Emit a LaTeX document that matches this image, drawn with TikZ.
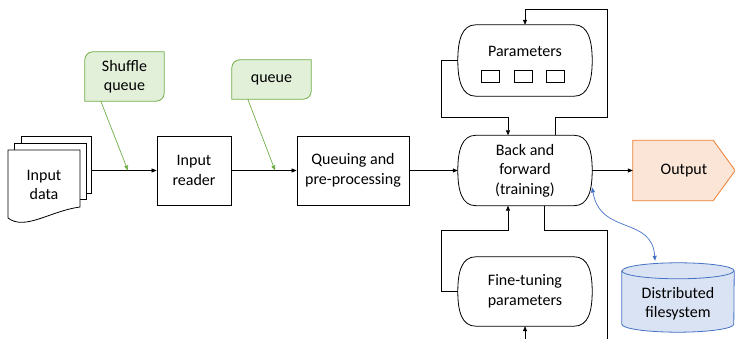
\documentclass[tikz,border=0pt]{standalone}
\usepackage{fontspec}
\setmainfont{Carlito}
\usepackage{tikz}
\usetikzlibrary{positioning,arrows.meta,calc,backgrounds}
\definecolor{tagG}{HTML}{70AD47}
\definecolor{tagGfill}{HTML}{E2F0D9}
\definecolor{outO}{HTML}{ED7D31}
\definecolor{outOfill}{HTML}{FBE5D6}
\definecolor{fsB}{HTML}{4472C4}
\definecolor{fsBfill}{HTML}{DAE3F3}
\tikzset{
  txt/.style   ={font=\fontsize{16}{19.5}\selectfont, align=center, inner sep=0pt},
  stage/.style ={txt, rectangle, draw, line width=0.8pt, minimum height=69pt},
  pill/.style  ={txt, rectangle, minimum width=134pt, minimum height=70pt},
  slot/.style  ={rectangle, draw, line width=0.8pt, minimum width=18pt,
                 minimum height=12pt, inner sep=0pt},
  sheet/.style ={draw, line width=0.8pt, fill=white, inner sep=0pt},
  flow/.style  ={draw, line width=0.7pt, -{Triangle[length=5pt,width=4pt]}},
  wire/.style  ={draw, line width=0.7pt},
  % the green pointers from the queue notes down onto the data line
  hint/.style  ={draw=tagG, line width=0.7pt, -{Triangle[length=5pt,width=4pt]}},
  sync/.style  ={draw=fsB, line width=0.7pt,
                 {Triangle[length=5pt,width=4pt]}-{Triangle[length=5pt,width=4pt]}},
}
% outline of a pill node: flat top and bottom, bulging ends
\newcommand{\pillshape}[1]{%
  \draw[line width=0.8pt]
    ([xshift=18pt]#1.north west) .. controls +(-14,0) and +(0,20) .. (#1.west)
    .. controls +(0,-20) and +(-14,0) .. ([xshift=18pt]#1.south west)
    -- ([xshift=-18pt]#1.south east) .. controls +(14,0) and +(0,-20) .. (#1.east)
    .. controls +(0,20) and +(14,0) .. ([xshift=-18pt]#1.north east) -- cycle;}
% note box, rounded only at top left and bottom right
\newcommand{\qtag}[1]{%
  \begin{scope}[on background layer]
    \draw[draw=tagG, fill=tagGfill, line width=0.8pt]
      (#1.south west) -- ([yshift=-8pt]#1.north west)
      arc[start angle=180, end angle=90, radius=8pt] -- (#1.north east)
      -- ([yshift=8pt]#1.south east)
      arc[start angle=0, end angle=-90, radius=8pt] -- cycle;
  \end{scope}}
\newcommand{\outshape}[1]{%
  \begin{scope}[on background layer]
    \draw[draw=outO, fill=outOfill, line width=0.8pt]
      (#1.north west) -- ([xshift=-22pt]#1.north east) -- (#1.east)
      -- ([xshift=-22pt]#1.south east) -- (#1.south west) -- cycle;
  \end{scope}}
\newcommand{\drum}[1]{%
  \begin{scope}[on background layer]
    \draw[draw=fsB, fill=fsBfill, line width=0.8pt]
      ([yshift=-8pt]#1.north west) -- ([yshift=8pt]#1.south west)
      arc[start angle=180, end angle=360, x radius=56pt, y radius=8pt]
      -- ([yshift=-8pt]#1.north east)
      arc[start angle=0, end angle=180, x radius=56pt, y radius=8pt] -- cycle;
    \draw[draw=fsB, line width=0.8pt] ([yshift=-8pt]#1.north west)
      arc[start angle=180, end angle=360, x radius=56pt, y radius=8pt];
  \end{scope}}

\begin{document}
\begin{tikzpicture}[x=1pt,y=1pt]
  \useasboundingbox (0,0) rectangle (735,339);
  % stack of input pages
  \node[sheet, minimum width=70pt, minimum height=57pt] (sheetC) at (56,174.5) {};
  \node[sheet, minimum width=72pt, minimum height=56pt] (sheetB) at (50,168) {};
  \draw[sheet] (8,189) -- (80,189) -- (80,132)
    .. controls (50,128) and (25,108) .. (8,121) -- cycle;
  \node[txt] (indata) at (44,154) {Input\\data};

  \node[stage, minimum width=74pt] (inread) at (194,168.5) {Input\\reader};
  \node[stage, minimum width=112pt] (prep) at (353,168.5) {Queuing and\\pre-processing};
  \node[pill] (bf) at (525,168.5) {Back and\\forward\\(training)};
  \node[pill, minimum height=71pt] (par) at (525,278.5) {};
  \node[txt] (parlbl) at ([yshift=9pt]par.center) {Parameters};
  \foreach \i/\dx in {1/-35,2/-2,3/30}
    \node[slot] (slot\i) at ([xshift=\dx pt, yshift=-15.5pt]par.center) {};
  \node[pill, minimum height=69pt] (ft) at (525,47.5) {Fine-tuning\\parameters};
  \foreach \n in {bf,par,ft} {\pillshape{\n}}
  \node[txt, minimum width=102pt, minimum height=60pt] (out) at (684,168.5) {Output};
  \node[txt, minimum width=112pt, minimum height=69pt] (dfs) at (678,41.5) {};
  \node[txt] (dfslbl) at ([yshift=-6pt]dfs.center) {Distributed\\filesystem};
  \node[txt, minimum width=79pt, minimum height=49pt] (shufq) at (124.5,262.5) {Shuffle\\queue};
  \node[txt, minimum width=79pt, minimum height=39pt] (q) at (271.5,259.5) {queue};
  \qtag{shufq}
  \qtag{q}
  \outshape{out}
  \drum{dfs}

  \draw[flow] (sheetC.east |- inread.west) -- (inread.west);
  \draw[flow] (inread) -- (prep);
  \draw[flow] (prep) -- (bf);
  \draw[flow] (bf) -- (out);

  \coordinate (shufin) at ($(sheetC.east |- inread.west)!0.56!(inread.west)$);
  \coordinate (qin) at ($(inread.east)!0.67!(prep.west)$);
  \draw[hint] ([xshift=16pt]shufq.south west) -- (shufin);
  \draw[hint] ([xshift=16pt]q.south west) -- (qin);

  % parameter loops round the training block
  \draw[flow] ([xshift=30pt]bf.north) -- ++(0,18) -| ++(52,108) -| (par.north);
  \draw[flow] (par.west) -| ++(-16,-57) -| ([xshift=-17pt]bf.north);
  \draw[flow] (ft.west) -| ++(-16,61) -| ([xshift=-17pt]bf.south);
  \coordinate (tailR) at (607,0);
  \draw[wire] ([xshift=19pt]bf.south) -- ++(0,-25) -| (tailR);
  \coordinate (headB) at (525,0);
  \draw[flow] (headB) -- (ft.south);

  \draw[sync] ([yshift=-17pt]bf.east) .. controls +(8,-48) and +(-3,45)
    .. ([xshift=-23pt,yshift=2pt]dfs.north);
\end{tikzpicture}
\end{document}
